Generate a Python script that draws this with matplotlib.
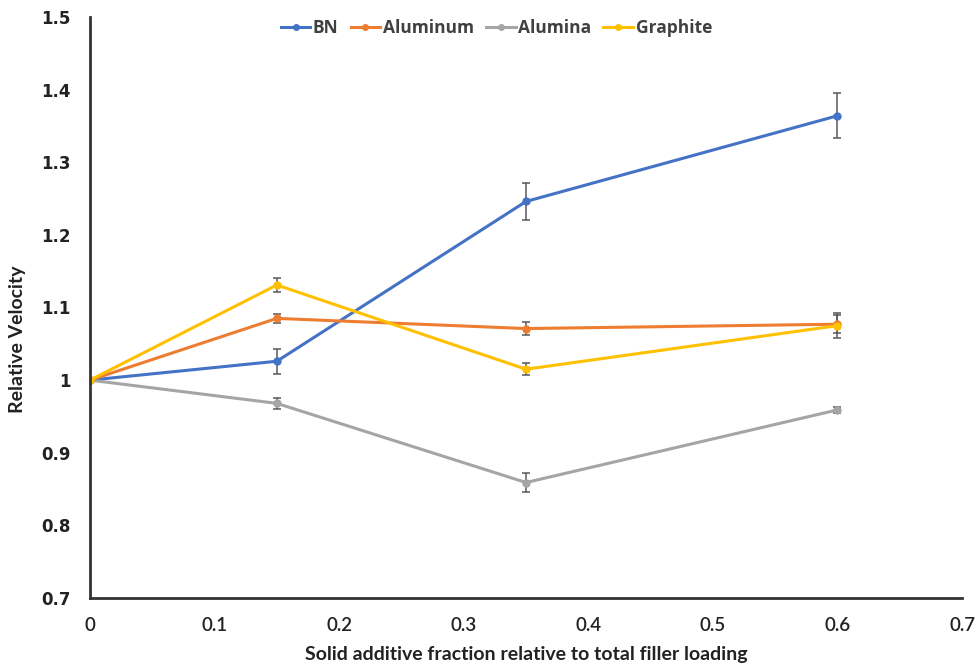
import matplotlib
matplotlib.use('Agg')
import matplotlib.pyplot as plt
from matplotlib.lines import Line2D

plt.rcParams['font.family'] = ['Lato', 'DejaVu Sans']

fraction = [0, 0.15, 0.35, 0.6]

bn = [1.0, 1.026, 1.246, 1.364]
bn_err = [0, 0.017, 0.025, 0.031]
aluminum = [1.0, 1.085, 1.071, 1.077]
aluminum_err = [0, 0.006, 0.009, 0.012]
alumina = [1.0, 0.968, 0.859, 0.959]
alumina_err = [0, 0.008, 0.013, 0.004]
graphite = [1.0, 1.131, 1.015, 1.075]
graphite_err = [0, 0.009, 0.008, 0.017]

series = [
    ('BN', bn, bn_err, '#4472C4'),
    ('Aluminum', aluminum, aluminum_err, '#ED7D31'),
    ('Alumina', alumina, alumina_err, '#A5A5A5'),
    ('Graphite', graphite, graphite_err, '#FFC000'),
]

fig = plt.figure(figsize=(9.76, 6.68), dpi=100)
ax = fig.add_axes([90 / 976, 70 / 668, 872 / 976, 581 / 668])

handles = []
for name, vals, errs, color in series:
    ax.errorbar(fraction, vals, yerr=errs, color=color, lw=2.2, marker='o',
                markersize=5, ecolor='#595959', elinewidth=1.1, capsize=3,
                capthick=1.1)
    handles.append(Line2D([], [], color=color, lw=2.2, marker='o', markersize=4))

ax.set_xlim(0, 0.7)
ax.set_ylim(0.7, 1.5)
ax.set_xticks([0, 0.1, 0.2, 0.3, 0.4, 0.5, 0.6, 0.7])
ax.set_xticklabels(['0', '0.1', '0.2', '0.3', '0.4', '0.5', '0.6', '0.7'],
                   fontsize=13.5, fontweight='semibold')
ax.set_yticks([0.7, 0.8, 0.9, 1.0, 1.1, 1.2, 1.3, 1.4, 1.5])
ax.set_yticklabels(['0.7', '0.8', '0.9', '1', '1.1', '1.2', '1.3', '1.4', '1.5'],
                   fontsize=12, fontweight='bold', family=['DejaVu Sans'])
ax.tick_params(length=0, colors='#222222')
ax.tick_params(axis='x', pad=14)
ax.tick_params(axis='y', pad=14)

for side in ['top', 'right']:
    ax.spines[side].set_visible(False)
for side in ['left', 'bottom']:
    ax.spines[side].set_linewidth(2)
    ax.spines[side].set_color('#333333')

ax.set_xlabel('Solid additive fraction relative to total filler loading',
              fontsize=14, fontweight='bold', color='#222222', labelpad=8)
ax.set_ylabel('Relative Velocity', fontsize=14, fontweight='bold', color='#222222')
ax.yaxis.set_label_coords(-0.073, 0.445)

leg = ax.legend(handles, [s[0] for s in series], loc='upper center',
                bbox_to_anchor=(0.466, 1.024), ncol=4, frameon=False,
                prop={'family': 'Open Sans', 'weight': 'bold', 'size': 12.5},
                handlelength=1.7, handletextpad=0.15, columnspacing=0.7)
for t in leg.get_texts():
    t.set_color('#404040')

plt.savefig('out.png', dpi=100)
plt.close(fig)
